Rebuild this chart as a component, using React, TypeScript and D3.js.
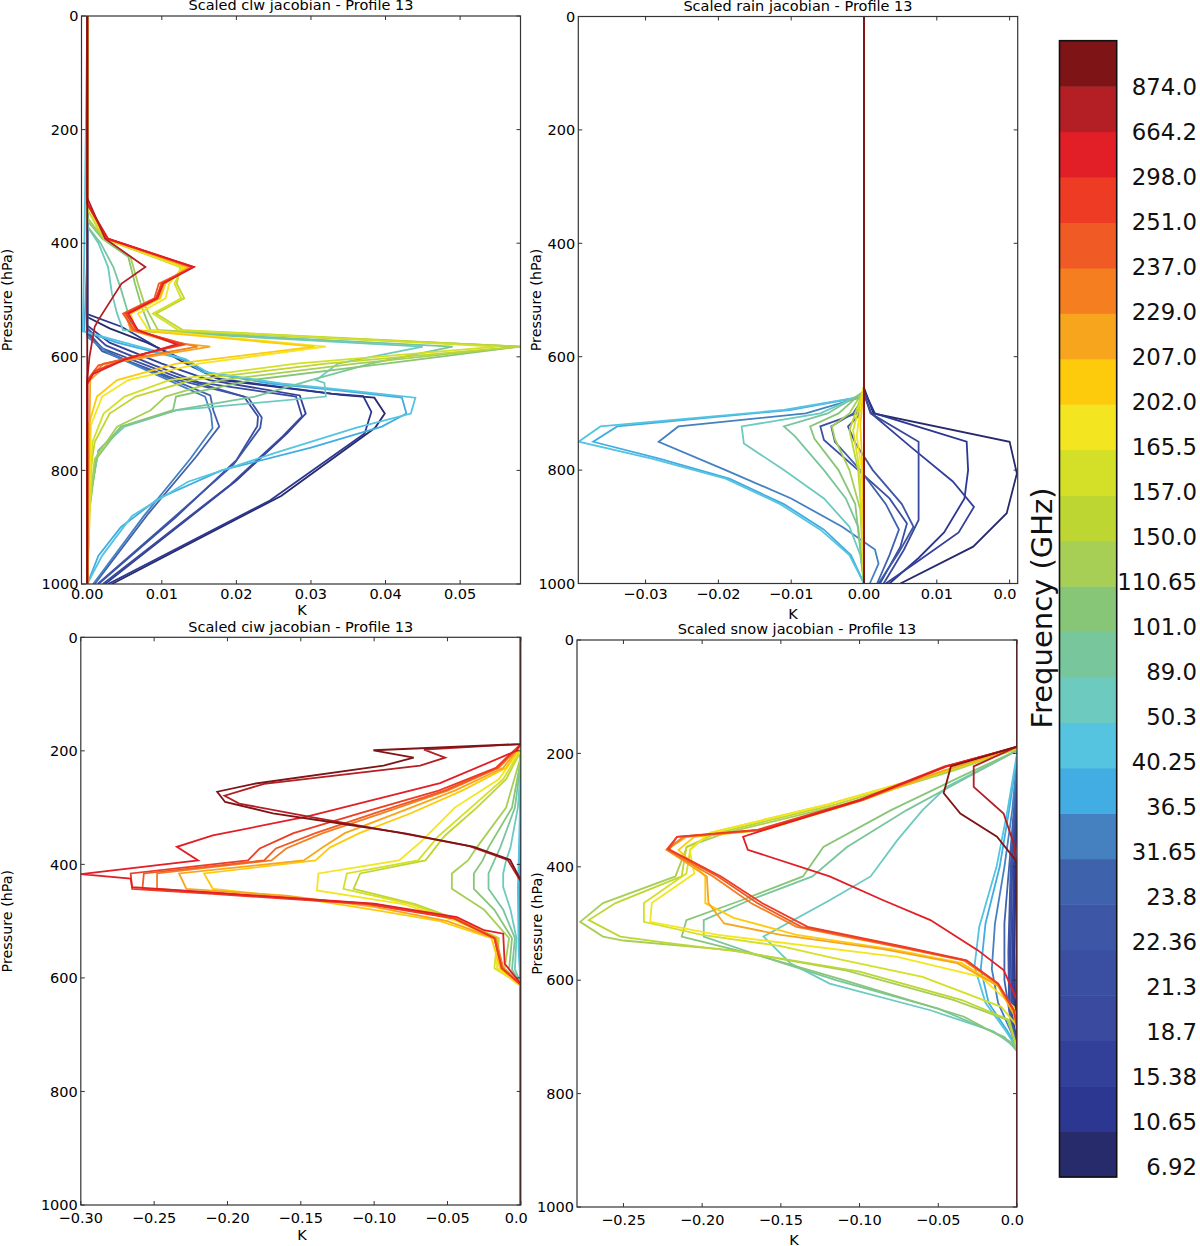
import React from 'react';
import * as d3 from 'd3';

// ---------------- DATA ----------------
const frequencies = ["6.92","10.65","15.38","18.7","21.3","22.36","23.8","31.65","36.5","40.25","50.3","89.0","101.0","110.65","150.0","157.0","165.5","202.0","207.0","229.0","237.0","251.0","298.0","664.2","874.0"];
const freqColors = ["#272b6b","#2c3791","#33409a","#3a4a9e","#3b4fa2","#3d56a6","#3f62ad","#4581c1","#42ade3","#55c4e0","#6ccabf","#78c69c","#88c677","#a7cf55","#bed631","#d4df27","#f3e620","#fdcb0b","#f7a51c","#f47e20","#f05a24","#ed3b24","#e21e26","#b31f25","#7e1416"];

const pressureTicks = [0, 200, 400, 600, 800, 1000];
const pressureTickLabels = ["0", "200", "400", "600", "800", "1000"];

const clwTicks = [0, 0.01, 0.02, 0.03, 0.04, 0.05];
const clwTickLabels = ["0.00", "0.01", "0.02", "0.03", "0.04", "0.05"];
const rainTicks = [-0.03, -0.02, -0.01, 0, 0.01, 0.02];
const rainTickLabels = ["\u22120.03", "\u22120.02", "\u22120.01", "0.00", "0.01", "0.0"];
const ciwTicks = [-0.30, -0.25, -0.20, -0.15, -0.10, -0.05, 0];
const ciwTickLabels = ["\u22120.30", "\u22120.25", "\u22120.20", "\u22120.15", "\u22120.10", "\u22120.05", "0.0"];
const snowTicks = [-0.25, -0.20, -0.15, -0.10, -0.05, 0];
const snowTickLabels = ["\u22120.25", "\u22120.20", "\u22120.15", "\u22120.10", "\u22120.05", "0.0"];

// each line: [pressure hPa, jacobian K]
const clwLines: number[][][] = [
  [[0,0],[530,0],[550,0.003],[575,0.008],[609,0.0135],[641,0.018],[667,0.034],[672,0.0385],[700,0.0399],[725,0.0386],[845,0.026],[1000,0.0033]],
  [[0,0],[525,0],[547,0.0046],[609,0.0128],[638,0.0173],[665,0.0327],[669,0.037],[697,0.0381],[735,0.0372],[853,0.0245],[1000,0.0028]],
  [[0,0],[545,0],[575,0.003],[612,0.010],[641,0.0164],[668,0.0285],[700,0.0293],[735,0.0268],[818,0.020],[1000,0.0024]],
  [[0,0],[550,0],[580,0.0025],[615,0.009],[645,0.015],[670,0.028],[705,0.0288],[740,0.0262],[825,0.0192],[1000,0.0021]],
  [[0,0],[555,0],[585,0.002],[635,0.0119],[670,0.021],[705,0.0229],[722,0.0228],[782,0.020],[882,0.0119],[1000,0.0015]],
  [[0,0],[558,0],[590,0.002],[640,0.012],[672,0.0216],[707,0.0234],[725,0.0232],[790,0.0196],[890,0.011],[1000,0.0014]],
  [[0,0],[560,0],[590,0.0025],[612,0.0062],[668,0.0165],[694,0.0169],[723,0.0177],[776,0.0146],[876,0.0082],[1000,0.001]],
  [[0,0],[565,0],[595,0.003],[615,0.0065],[670,0.0158],[700,0.0166],[726,0.0168],[780,0.0138],[880,0.0076],[1000,0.0008]],
  [[0,0],[420,0],[555,-0.0004],[575,0.004],[604,0.0128],[627,0.0155],[647,0.0245],[659,0.0336],[672,0.0422],[700,0.0428],[723,0.0395],[760,0.030],[800,0.018],[850,0.0095],[900,0.0045],[950,0.0015],[1000,0]],
  [[0,0],[420,-0.0004],[555,-0.0006],[575,0.005],[604,0.0132],[627,0.016],[647,0.026],[659,0.035],[672,0.044],[700,0.0434],[725,0.036],[770,0.025],[820,0.0135],[880,0.006],[950,0.002],[1000,0]],
  [[0,0],[370,0],[400,0.0015],[442,0.0028],[488,0.0033],[524,0.004],[553,0.0048],[582,0.045],[612,0.0336],[641,0.0307],[646,0.0318],[670,0.032],[694,0.012],[723,0.005],[765,0.0015],[853,0.0003],[1000,0]],
  [[0,0],[370,0],[400,0.0018],[442,0.0035],[480,0.0045],[524,0.0055],[553,0.006],[582,0.049],[612,0.038],[641,0.030],[670,0.0225],[694,0.0119],[723,0.0046],[765,0.0015],[853,0.0003],[1000,0]],
  [[0,0],[360,0],[392,0.002],[424,0.0055],[471,0.0064],[512,0.0073],[553,0.0085],[582,0.058],[612,0.040],[641,0.022],[670,0.0119],[694,0.0115],[723,0.0045],[780,0.0012],[880,0.0002],[1000,0]],
  [[0,0],[355,0],[392,0.0022],[424,0.0058],[471,0.0068],[512,0.0078],[553,0.0095],[582,0.058],[612,0.036],[641,0.018],[670,0.0105],[694,0.0085],[723,0.004],[780,0.001],[880,0.0002],[1000,0]],
  [[0,0],[340,0],[392,0.0022],[442,0.0125],[471,0.012],[497,0.013],[524,0.0092],[553,0.0128],[582,0.058],[612,0.032],[641,0.014],[670,0.0065],[700,0.003],[750,0.001],[820,0.0002],[1000,0]],
  [[0,0],[340,0],[392,0.0024],[442,0.0128],[471,0.0117],[497,0.0126],[524,0.0088],[553,0.0122],[582,0.055],[612,0.028],[641,0.011],[670,0.005],[700,0.0022],[750,0.0007],[1000,0]],
  [[0,0],[330,0],[392,0.0025],[442,0.0128],[471,0.011],[497,0.0105],[524,0.0068],[553,0.0082],[582,0.032],[612,0.015],[641,0.0055],[670,0.002],[720,0.0005],[1000,0]],
  [[0,0],[330,0],[392,0.0026],[442,0.0133],[471,0.0105],[497,0.0098],[524,0.0058],[553,0.0065],[582,0.0305],[612,0.012],[641,0.004],[670,0.0013],[720,0.0002],[1000,0]],
  [[0,0],[330,0],[392,0.0026],[442,0.0137],[471,0.0103],[497,0.0096],[524,0.0052],[553,0.0058],[575,0.0115],[582,0.0165],[612,0.0028],[641,0.0004],[1000,0]],
  [[0,0],[330,0],[392,0.0026],[442,0.014],[471,0.0099],[497,0.0094],[524,0.005],[553,0.006],[575,0.0122],[582,0.0148],[612,0.0022],[641,0],[1000,0]],
  [[0,0],[330,0],[392,0.0027],[442,0.0142],[471,0.0096],[497,0.009],[524,0.0048],[553,0.0063],[578,0.0132],[590,0.009],[615,0.0015],[641,0],[1000,0]],
  [[0,0],[330,0],[392,0.0027],[442,0.0142],[471,0.010],[497,0.0092],[524,0.0052],[553,0.0066],[578,0.0127],[600,0.006],[625,0.001],[645,0],[1000,0]],
  [[0,0],[330,0],[392,0.0028],[442,0.0143],[471,0.0102],[497,0.0094],[524,0.0055],[553,0.0068],[578,0.012],[605,0.005],[630,0.0008],[648,0],[1000,0]],
  [[0,0],[320,0],[392,0.0024],[442,0.0078],[471,0.0046],[535,0.0015],[547,0.001],[600,0.0003],[640,0],[1000,0]],
  [[0,0],[1000,0]],
];

const rainLines: number[][][] = [
  [[0,0],[655,0],[700,0.0013],[750,0.020],[806,0.021],[876,0.0196],[935,0.015],[1000,0.005]],
  [[0,0],[660,0],[700,0.0015],[750,0.0141],[800,0.0143],[850,0.0138],[910,0.011],[955,0.0075],[1000,0.0035]],
  [[0,0],[665,0],[700,0.001],[760,0.0065],[820,0.0122],[865,0.0151],[910,0.013],[960,0.0075],[1000,0.003]],
  [[0,0],[665,0],[700,0.0009],[750,0.0075],[888,0.0075],[940,0.0055],[1000,0.0027]],
  [[0,0],[668,0],[700,-0.001],[723,-0.006],[747,-0.0055],[800,-0.0008],[850,0.0035],[894,0.0059],[935,0.005],[1000,0.0022]],
  [[0,0],[670,0],[705,-0.0008],[723,-0.0022],[752,-0.0012],[800,0.0012],[860,0.0052],[900,0.0068],[945,0.0048],[1000,0.002]],
  [[0,0],[670,0],[700,-0.0015],[723,-0.0045],[750,-0.004],[800,-0.0005],[860,0.003],[905,0.0048],[950,0.0035],[1000,0.0018]],
  [[0,0],[670,0],[700,-0.008],[723,-0.0255],[750,-0.0282],[800,-0.019],[850,-0.010],[900,-0.003],[940,0.0015],[965,0.002],[1000,0.0008]],
  [[0,0],[670,0],[694,-0.0102],[723,-0.0339],[750,-0.0372],[780,-0.028],[815,-0.0185],[860,-0.011],[905,-0.0055],[950,-0.0018],[1000,0]],
  [[0,0],[670,0],[694,-0.011],[723,-0.0362],[750,-0.0392],[780,-0.029],[815,-0.019],[860,-0.0115],[905,-0.006],[950,-0.002],[1000,0]],
  [[0,0],[665,0],[700,-0.006],[723,-0.0168],[753,-0.0165],[800,-0.011],[850,-0.0055],[900,-0.002],[950,-0.0005],[1000,0]],
  [[0,0],[662,0],[700,-0.005],[723,-0.011],[740,-0.0095],[800,-0.0055],[850,-0.0025],[900,-0.0008],[1000,0]],
  [[0,0],[660,0],[700,-0.0035],[723,-0.0074],[745,-0.0068],[800,-0.0035],[860,-0.0012],[1000,0]],
  [[0,0],[658,0],[700,-0.002],[723,-0.0044],[745,-0.004],[800,-0.002],[870,-0.0005],[1000,0]],
  [[0,0],[655,0],[700,-0.0012],[730,-0.002],[800,-0.0008],[900,-0.0002],[1000,0]],
  [[0,0],[652,0],[700,-0.0009],[730,-0.0015],[800,-0.0006],[1000,0]],
  [[0,0],[650,0],[700,-0.0006],[740,-0.001],[800,-0.0003],[1000,0]],
  [[0,0],[650,0],[720,-0.0005],[800,-0.0002],[1000,0]],
  [[0,0],[1000,0]],
  [[0,0],[1000,0]],
  [[0,0],[1000,0]],
  [[0,0],[1000,0]],
  [[0,0],[1000,0]],
  [[0,0],[1000,0]],
  [[0,0],[1000,0]],
];

const ciwLines: number[][][] = [
  [[0,0],[1000,0]],
  [[0,0],[1000,0]],
  [[0,0],[1000,0]],
  [[0,0],[1000,0]],
  [[0,0],[1000,0]],
  [[0,0],[1000,0]],
  [[0,0],[1000,0]],
  [[0,0],[260,0],[400,-0.0008],[550,-0.0006],[620,0],[1000,0]],
  [[0,0],[250,0],[400,-0.001],[450,-0.0015],[550,-0.001],[620,0],[1000,0]],
  [[0,0],[240,0],[400,-0.0015],[440,-0.002],[550,-0.0015],[620,0],[1000,0]],
  [[0,0],[230,0],[300,-0.002],[370,-0.007],[393,-0.01],[416,-0.012],[440,-0.012],[480,-0.007],[530,-0.003],[585,-0.004],[610,0],[1000,0]],
  [[0,0],[220,0],[300,-0.004],[370,-0.014],[393,-0.018],[416,-0.022],[443,-0.022],[480,-0.012],[530,-0.004],[585,-0.006],[612,0],[1000,0]],
  [[0,0],[215,0],[300,-0.006],[370,-0.022],[393,-0.026],[416,-0.032],[443,-0.032],[480,-0.018],[530,-0.006],[585,-0.008],[612,0],[1000,0]],
  [[0,0],[210,0],[300,-0.01],[370,-0.03],[393,-0.036],[416,-0.047],[443,-0.047],[480,-0.025],[530,-0.008],[583,-0.011],[612,0],[1000,0]],
  [[0,0],[200,0],[250,-0.01],[300,-0.03],[350,-0.052],[393,-0.065],[416,-0.1095],[443,-0.114],[470,-0.072],[500,-0.04],[530,-0.015],[583,-0.016],[612,0],[1000,0]],
  [[0,0],[198,0],[250,-0.012],[300,-0.034],[350,-0.056],[393,-0.07],[416,-0.1186],[443,-0.121],[470,-0.075],[500,-0.042],[530,-0.016],[583,-0.018],[612,0],[1000,0]],
  [[0,0],[195,0],[250,-0.015],[300,-0.045],[360,-0.068],[393,-0.083],[416,-0.138],[446,-0.139],[470,-0.08],[500,-0.044],[530,-0.017],[583,-0.016],[615,0],[1000,0]],
  [[0,0],[192,0],[230,-0.01],[270,-0.04],[310,-0.075],[345,-0.11],[370,-0.13],[393,-0.14],[416,-0.216],[443,-0.21],[460,-0.15],[480,-0.1],[500,-0.055],[530,-0.02],[583,-0.014],[612,0],[1000,0]],
  [[0,0],[190,0],[230,-0.012],[270,-0.045],[310,-0.085],[345,-0.12],[370,-0.135],[393,-0.148],[416,-0.233],[443,-0.228],[455,-0.16],[475,-0.1],[500,-0.05],[530,-0.018],[583,-0.012],[612,0],[1000,0]],
  [[0,0],[190,0],[230,-0.015],[270,-0.05],[310,-0.095],[345,-0.135],[372,-0.16],[393,-0.17],[416,-0.248],[443,-0.248],[452,-0.2],[470,-0.1],[495,-0.045],[530,-0.017],[583,-0.012],[612,0],[1000,0]],
  [[0,0],[189,0],[230,-0.016],[270,-0.052],[310,-0.1],[345,-0.14],[372,-0.167],[393,-0.175],[416,-0.257],[443,-0.258],[452,-0.2],[470,-0.1],[495,-0.045],[530,-0.018],[583,-0.013],[612,0],[1000,0]],
  [[0,0],[188,0],[230,-0.017],[270,-0.056],[310,-0.11],[345,-0.155],[372,-0.178],[393,-0.186],[416,-0.266],[443,-0.265],[452,-0.21],[470,-0.105],[495,-0.046],[530,-0.018],[583,-0.013],[612,0],[1000,0]],
  [[0,0],[188,0],[200,-0.003],[257,-0.055],[316,-0.146],[349,-0.21],[369,-0.2345],[393,-0.22],[417,-0.30],[425,-0.266],[440,-0.265],[449,-0.214],[469,-0.1],[493,-0.0436],[516,-0.025],[522,-0.012],[575,-0.011],[610,0],[1000,0]],
  [[0,0],[188,0],[198,-0.066],[212,-0.0516],[226,-0.0686],[258,-0.175],[279,-0.202],[293,-0.192],[318,-0.14],[343,-0.085],[368,-0.035],[392,-0.009],[430,0],[1000,0]],
  [[0,0],[188,0],[199,-0.1005],[212,-0.073],[226,-0.0936],[258,-0.182],[272,-0.207],[290,-0.2016],[310,-0.169],[328,-0.123],[346,-0.078],[369,-0.032],[392,-0.0073],[428,0],[1000,0]],
];

const snowLines: number[][][] = [
  [[0,0],[260,0],[400,-0.001],[550,-0.0015],[650,-0.0012],[720,0],[1000,0]],
  [[0,0],[250,0],[400,-0.0015],[550,-0.002],[650,-0.0018],[720,0],[1000,0]],
  [[0,0],[240,0],[400,-0.002],[550,-0.003],[650,-0.0025],[720,0],[1000,0]],
  [[0,0],[230,0],[400,-0.003],[550,-0.004],[650,-0.0035],[720,0],[1000,0]],
  [[0,0],[225,0],[400,-0.0035],[550,-0.005],[650,-0.0045],[720,0],[1000,0]],
  [[0,0],[220,0],[400,-0.004],[550,-0.0055],[650,-0.005],[720,0],[1000,0]],
  [[0,0],[215,0],[300,-0.002],[400,-0.005],[500,-0.008],[600,-0.008],[670,-0.004],[720,0],[1000,0]],
  [[0,0],[210,0],[300,-0.003],[400,-0.008],[500,-0.014],[580,-0.016],[640,-0.012],[690,-0.004],[720,0],[1000,0]],
  [[0,0],[205,0],[300,-0.005],[400,-0.011],[500,-0.02],[580,-0.023],[640,-0.018],[690,-0.006],[720,0],[1000,0]],
  [[0,0],[200,0],[300,-0.006],[400,-0.013],[506,-0.024],[576,-0.027],[640,-0.02],[690,-0.007],[720,0],[1000,0]],
  [[0,0],[195,0],[259,-0.0445],[300,-0.06],[353,-0.076],[417,-0.093],[459,-0.119],[523,-0.161],[570,-0.144],[606,-0.119],[653,-0.055],[690,-0.015],[720,0],[1000,0]],
  [[0,0],[195,0],[240,-0.03],[300,-0.07],[365,-0.108],[417,-0.13],[459,-0.17],[494,-0.199],[523,-0.199],[560,-0.16],[600,-0.115],[650,-0.05],[700,-0.008],[725,0],[1000,0]],
  [[0,0],[195,0],[240,-0.035],[300,-0.08],[365,-0.123],[417,-0.136],[459,-0.175],[494,-0.21],[523,-0.213],[559,-0.161],[600,-0.11],[664,-0.034],[710,-0.003],[725,0],[1000,0]],
  [[0,0],[192,0],[230,-0.04],[290,-0.11],[340,-0.185],[365,-0.2097],[417,-0.217],[464,-0.263],[497,-0.2775],[523,-0.263],[530,-0.25],[547,-0.182],[582,-0.11],[635,-0.04],[670,-0.006],[720,0],[1000,0]],
  [[0,0],[192,0],[230,-0.042],[290,-0.115],[340,-0.19],[365,-0.21],[417,-0.213],[464,-0.255],[494,-0.272],[523,-0.252],[535,-0.22],[550,-0.175],[585,-0.1],[635,-0.035],[670,-0.005],[720,0],[1000,0]],
  [[0,0],[190,0],[230,-0.045],[290,-0.12],[340,-0.195],[370,-0.2076],[412,-0.21],[464,-0.237],[497,-0.237],[520,-0.2],[540,-0.15],[559,-0.12],[594,-0.06],[647,-0.01],[680,0],[1000,0]],
  [[0,0],[190,0],[230,-0.045],[290,-0.12],[340,-0.195],[370,-0.208],[412,-0.205],[464,-0.232],[497,-0.233],[520,-0.19],[559,-0.076],[594,-0.023],[647,-0.002],[680,0],[1000,0]],
  [[0,0],[190,0],[230,-0.045],[282,-0.0975],[335,-0.16],[347,-0.205],[370,-0.215],[417,-0.198],[464,-0.198],[490,-0.18],[520,-0.14],[545,-0.08],[570,-0.035],[610,-0.012],[660,-0.002],[690,0],[1000,0]],
  [[0,0],[190,0],[230,-0.046],[282,-0.099],[335,-0.163],[347,-0.21],[370,-0.2225],[417,-0.197],[464,-0.196],[500,-0.186],[520,-0.15],[545,-0.085],[570,-0.038],[610,-0.012],[660,-0.002],[690,0],[1000,0]],
  [[0,0],[189,0],[223,-0.0445],[282,-0.0975],[335,-0.161],[347,-0.212],[370,-0.2225],[417,-0.193],[464,-0.169],[506,-0.14],[541,-0.076],[565,-0.034],[606,-0.0127],[653,-0.002],[680,0],[1000,0]],
  [[0,0],[189,0],[223,-0.045],[282,-0.098],[335,-0.162],[347,-0.216],[370,-0.221],[417,-0.19],[464,-0.165],[506,-0.137],[541,-0.074],[565,-0.033],[606,-0.012],[653,-0.002],[680,0],[1000,0]],
  [[0,0],[189,0],[223,-0.046],[282,-0.1],[335,-0.165],[347,-0.216],[368,-0.222],[417,-0.188],[464,-0.162],[506,-0.133],[541,-0.072],[565,-0.032],[606,-0.012],[653,-0.002],[680,0],[1000,0]],
  [[0,0],[188,0],[223,-0.045],[282,-0.099],[330,-0.155],[347,-0.174],[370,-0.171],[417,-0.119],[459,-0.085],[494,-0.055],[547,-0.025],[582,-0.0085],[635,0],[1000,0]],
  [[0,0],[188,0],[223,-0.0275],[259,-0.0275],[306,-0.0085],[360,-0.002],[400,0],[1000,0]],
  [[0,0],[188,0],[223,-0.042],[270,-0.0466],[306,-0.036],[347,-0.0127],[388,-0.001],[400,0],[1000,0]],
];

const panelTitles = ["Scaled clw jacobian - Profile 13", "Scaled rain jacobian - Profile 13", "Scaled ciw jacobian - Profile 13", "Scaled snow jacobian - Profile 13"];
const xAxisLabel = "K";
const yAxisLabel = "Pressure (hPa)";
const colorbarLabel = "Frequency (GHz)";

// ---------------- LAYOUT ----------------
const FONT = "DejaVu Sans, Verdana, sans-serif";

type PanelCfg = {
  id: string; title: string; lines: number[][][];
  xDomain: [number, number]; ticks: number[]; tickLabels: string[];
  left: number; top: number; width: number; height: number;
  tickLabelDy: number; kX: number; kY: number; clippedLast: boolean; yLabelX: number;
};

const panels: PanelCfg[] = [
  { id: "p1", title: panelTitles[0], lines: clwLines, xDomain: [-0.00077, 0.0581], ticks: clwTicks, tickLabels: clwTickLabels,
    left: 81.5, top: 16, width: 439, height: 568, tickLabelDy: 15, kX: 302, kY: 615, clippedLast: false, yLabelX: 12 },
  { id: "p2", title: panelTitles[1], lines: rainLines, xDomain: [-0.03924, 0.02111], ticks: rainTicks, tickLabels: rainTickLabels,
    left: 578.3, top: 16.5, width: 439.4, height: 567, tickLabelDy: 15.5, kX: 793, kY: 619, clippedLast: true, yLabelX: 541 },
  { id: "p3", title: panelTitles[2], lines: ciwLines, xDomain: [-0.30, 0], ticks: ciwTicks, tickLabels: ciwTickLabels,
    left: 80.8, top: 637.3, width: 440, height: 567.7, tickLabelDy: 17.5, kX: 302, kY: 1240, clippedLast: true, yLabelX: 12 },
  { id: "p4", title: panelTitles[3], lines: snowLines, xDomain: [-0.2795, 0], ticks: snowTicks, tickLabels: snowTickLabels,
    left: 577, top: 640, width: 440, height: 567, tickLabelDy: 17.5, kX: 794, kY: 1245, clippedLast: true, yLabelX: 541.5 },
];

function Panel({ cfg }: { cfg: PanelCfg }) {
  const x = d3.scaleLinear().domain(cfg.xDomain).range([cfg.left, cfg.left + cfg.width]);
  const y = d3.scaleLinear().domain([0, 1000]).range([cfg.top, cfg.top + cfg.height]);
  const line = d3.line<number[]>().x(d => x(d[1])).y(d => y(d[0]));
  const bottom = cfg.top + cfg.height;
  const right = cfg.left + cfg.width;
  const fs = 14.5;
  return (
    <g>
      <defs>
        <clipPath id={`clip-${cfg.id}`}>
          <rect x={cfg.left} y={cfg.top} width={cfg.width} height={cfg.height} />
        </clipPath>
      </defs>
      <g clipPath={`url(#clip-${cfg.id})`}>
        {cfg.lines.map((ln, i) => (
          <path key={i} d={line(ln) || ""} fill="none" stroke={freqColors[i]} strokeWidth={1.8} strokeLinejoin="miter" />
        ))}
      </g>
      <rect x={cfg.left} y={cfg.top} width={cfg.width} height={cfg.height} fill="none" stroke="#333" strokeWidth={1.2} />
      {cfg.ticks.map((t, i) => (
        <g key={"xt" + i}>
          <line x1={x(t)} x2={x(t)} y1={bottom} y2={bottom - 4} stroke="#333" strokeWidth={1} />
          <line x1={x(t)} x2={x(t)} y1={cfg.top} y2={cfg.top + 4} stroke="#333" strokeWidth={1} />
          <text x={cfg.clippedLast && i === cfg.ticks.length - 1 ? x(t) - 4.6 : x(t)} y={bottom + cfg.tickLabelDy}
            textAnchor="middle" fontSize={fs} fontFamily={FONT} fill="#000">{cfg.tickLabels[i]}</text>
        </g>
      ))}
      {pressureTicks.map((p, i) => (
        <g key={"yt" + i}>
          <line x1={cfg.left} x2={cfg.left + 4} y1={y(p)} y2={y(p)} stroke="#333" strokeWidth={1} />
          <line x1={right} x2={right - 4} y1={y(p)} y2={y(p)} stroke="#333" strokeWidth={1} />
          <text x={cfg.left - 3} y={y(p)} dy="0.36em" textAnchor="end" fontSize={fs} fontFamily={FONT} fill="#000">{pressureTickLabels[i]}</text>
        </g>
      ))}
      <text x={cfg.left + cfg.width / 2} y={cfg.top - 5.8} textAnchor="middle" fontSize={fs} fontFamily={FONT} fill="#000">{cfg.title}</text>
      <text x={cfg.kX} y={cfg.kY} textAnchor="middle" fontSize={fs} fontFamily={FONT} fill="#000">{xAxisLabel}</text>
      <text transform={`translate(${cfg.yLabelX},${(cfg.top + bottom) / 2}) rotate(-90)`} textAnchor="middle" fontSize={14.3} fontFamily={FONT} fill="#000">{yAxisLabel}</text>
    </g>
  );
}

function Colorbar() {
  const cbLeft = 1059.5, cbTop = 40.7, cbW = 57.2, cbH = 1136.3;
  const n = frequencies.length;
  const band = d3.scaleBand<number>().domain(d3.range(n)).range([cbTop + cbH, cbTop]).paddingInner(0).paddingOuter(0);
  const labelY = d3.scaleLinear().domain([0, n - 1]).range([1167, 87]);
  return (
    <g>
      {frequencies.map((f, i) => (
        <rect key={f} x={cbLeft} y={band(i)!} width={cbW} height={band.bandwidth() + 0.5} fill={freqColors[i]} />
      ))}
      <rect x={cbLeft} y={cbTop} width={cbW} height={cbH} fill="none" stroke="#111" strokeWidth={1.6} />
      {frequencies.map((f, i) => (
        <text key={"l" + f} x={1197} y={labelY(i)} dy="0.36em" textAnchor="end" fontSize={22.8} fontFamily={FONT} fill="#111">{f}</text>
      ))}
      <text transform={`translate(1052,608) rotate(-90)`} textAnchor="middle" fontSize={29} fontFamily={FONT} fill="#111">{colorbarLabel}</text>
    </g>
  );
}

export default function App() {
  return (
    <svg width={1200} height={1246} style={{ position: "absolute", left: 0, top: 0, background: "#fff" }}>
      <rect x={0} y={0} width={1200} height={1246} fill="#fff" />
      {panels.map(p => <Panel key={p.id} cfg={p} />)}
      <Colorbar />
    </svg>
  );
}
